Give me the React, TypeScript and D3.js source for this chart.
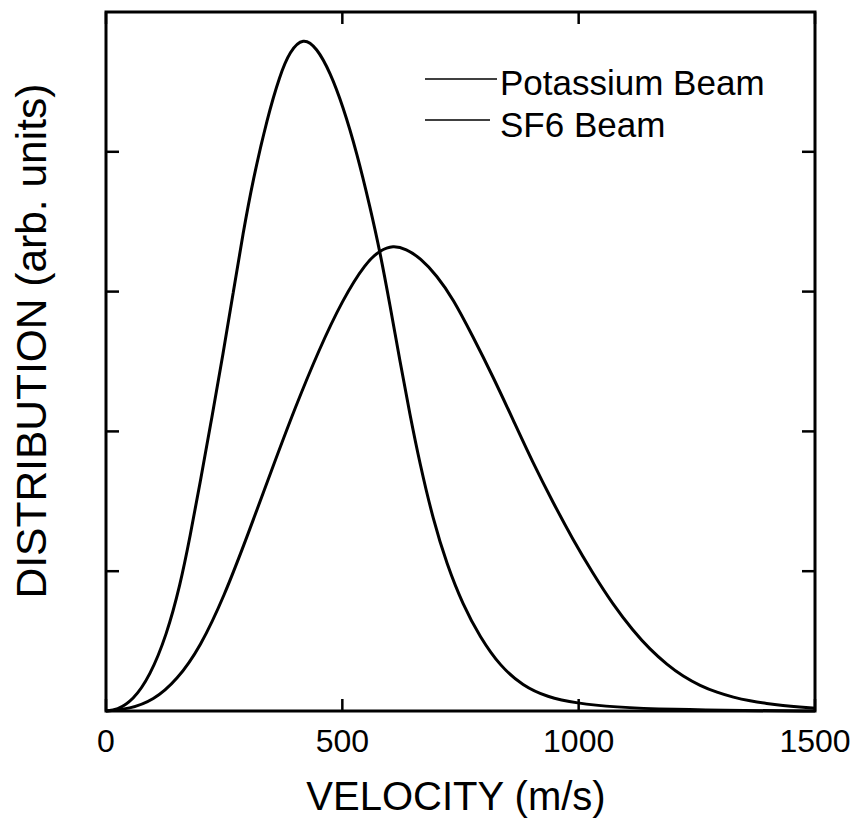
import React from "react";
import * as d3 from "d3";

// Narrow (faster-rising) distribution
const potassiumV = [0, 23, 57, 93, 128, 157, 178, 199, 224, 248, 269, 290, 311, 341, 368, 389, 417, 446, 474, 501, 531, 559, 580, 601, 622, 643, 664, 692, 721, 755, 791, 834, 882, 933, 996, 1073, 1200, 1350, 1500];
const potassiumD = [0, 0.007, 0.075, 0.25, 0.54, 0.9, 1.25, 1.63, 2.1, 2.56, 2.99, 3.42, 3.8, 4.24, 4.55, 4.72, 4.82, 4.745, 4.57, 4.33, 3.99, 3.6, 3.28, 2.9, 2.5, 2.12, 1.77, 1.37, 1.05, 0.76, 0.53, 0.32, 0.18, 0.1, 0.055, 0.028, 0.01, 0.003, 0];

// Broad distribution
const sf6V = [0, 50, 100, 150, 200, 250, 300, 350, 400, 450, 500, 550, 580, 607, 635, 665, 700, 734, 776, 819, 861, 903, 946, 988, 1030, 1073, 1115, 1151, 1187, 1221, 1257, 1293, 1327, 1363, 1398, 1432, 1468, 1500];
const sf6D = [0, 0.015, 0.075, 0.22, 0.46, 0.82, 1.26, 1.72, 2.17, 2.58, 2.94, 3.21, 3.295, 3.33, 3.305, 3.24, 3.115, 2.95, 2.68, 2.39, 2.085, 1.777, 1.49, 1.225, 0.985, 0.76, 0.575, 0.44, 0.332, 0.247, 0.181, 0.132, 0.098, 0.072, 0.053, 0.039, 0.028, 0.02];

const xTicks = [0, 500, 1000, 1500];
const yTicks = [1, 2, 3, 4];
const seriesNames = ["Potassium Beam", "SF6 Beam"];

const W = 857;
const H = 825;
const L = 106, R = 815, T = 12, B = 711;
const FONT = "'Liberation Sans', Arial, Helvetica, sans-serif";

export default function App() {
  const x = d3.scaleLinear().domain([0, 1500]).range([L, R]);
  const y = d3.scaleLinear().domain([0, 5]).range([B, T]);
  const line = d3
    .line<[number, number]>()
    .x((d) => x(d[0]))
    .y((d) => y(d[1]))
    .curve(d3.curveBasis);
  const kPts = potassiumV.map((v, i) => [v, potassiumD[i]] as [number, number]);
  const sPts = sf6V.map((v, i) => [v, sf6D[i]] as [number, number]);
  const tl = 13;
  return (
    <svg width={W} height={H} style={{ position: "absolute", left: 0, top: 0, background: "#fff" }}>
      <rect x={0} y={0} width={W} height={H} fill="#fff" />
      <path d={line(kPts) || ""} fill="none" stroke="#000" strokeWidth={3} />
      <path d={line(sPts) || ""} fill="none" stroke="#000" strokeWidth={3} />
      <rect x={L} y={T} width={R - L} height={B - T} fill="none" stroke="#000" strokeWidth={3} />
      {yTicks.map((t) => (
        <g key={"y" + t}>
          <line x1={L} x2={L + tl} y1={y(t)} y2={y(t)} stroke="#000" strokeWidth={2.5} />
          <line x1={R} x2={R - tl} y1={y(t)} y2={y(t)} stroke="#000" strokeWidth={2.5} />
        </g>
      ))}
      {xTicks.map((t) => (
        <g key={"x" + t}>
          <line x1={x(t)} x2={x(t)} y1={B} y2={B - 12} stroke="#000" strokeWidth={2.5} />
          <line x1={x(t)} x2={x(t)} y1={T} y2={T + 12} stroke="#000" strokeWidth={2.5} />
          <text x={x(t)} y={752} textAnchor="middle" fontFamily={FONT} fontSize={32} fill="#000">
            {t}
          </text>
        </g>
      ))}
      <text x={456} y={810} textAnchor="middle" fontFamily={FONT} fontSize={40} fill="#000">
        VELOCITY (m/s)
      </text>
      <text
        transform={`translate(46,341) rotate(-90)`}
        textAnchor="middle"
        fontFamily={FONT}
        fontSize={42.5}
        fill="#000"
      >
        DISTRIBUTION (arb. units)
      </text>
      {seriesNames.map((n, i) => (
        <g key={n}>
          <line x1={425} x2={i === 0 ? 497 : 490} y1={79 + i * 41} y2={79 + i * 41} stroke="#000" strokeWidth={1.5} />
          <text x={500} y={95 + i * 42} fontFamily={FONT} fontSize={35} fill="#000">
            {n}
          </text>
        </g>
      ))}
    </svg>
  );
}
